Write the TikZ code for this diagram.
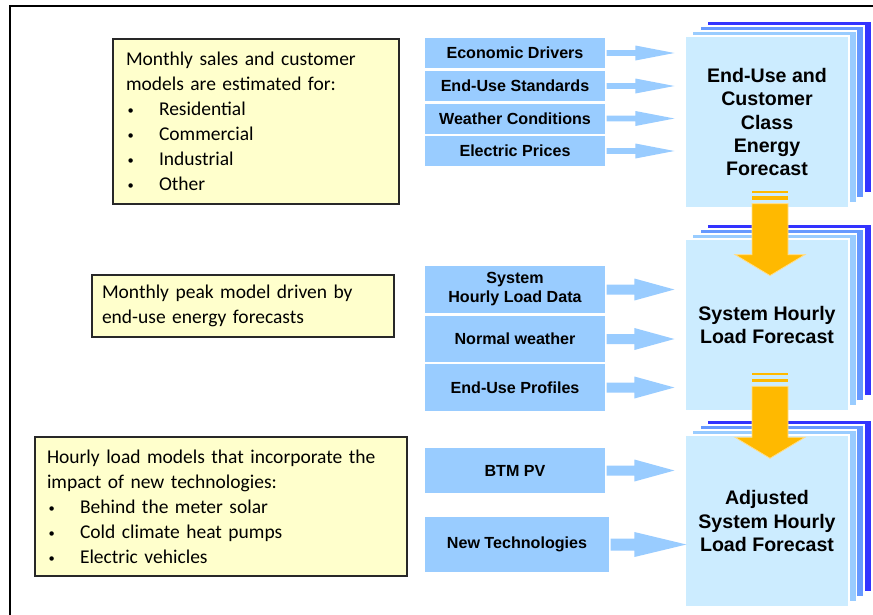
\documentclass[tikz,border=0pt]{standalone}
\usepackage{fontspec}
\setmainfont{Liberation Sans}
\newfontfamily\notefont{Carlito}
\usetikzlibrary{calc}
\definecolor{inblue}{RGB}{153,204,255}
\definecolor{pageA}{RGB}{204,236,255}
\definecolor{pageB}{RGB}{153,204,255}
\definecolor{pageC}{RGB}{102,153,255}
\definecolor{pageD}{RGB}{51,51,255}
\definecolor{notefill}{RGB}{255,255,204}
\definecolor{notedraw}{RGB}{40,40,40}
\definecolor{gold}{RGB}{255,185,0}
\definecolor{goldedge}{RGB}{255,222,140}

% block arrow from the east side of #1 towards the west side of #2
% #3 shaft half height, #4 head half height, #5 head length, #6 gap before #2
\newcommand\feedarrow[6]{%
  \fill[inblue] let \p1=(#1.east), \p2=(#2.west) in
    (\x1,\y1+#3) -- (\x2-#6-#5,\y1+#3) -- (\x2-#6-#5,\y1+#4) -- (\x2-#6,\y1)
    -- (\x2-#6-#5,\y1-#4) -- (\x2-#6-#5,\y1-#3) -- (\x1,\y1-#3) -- cycle;}

% striped down arrow starting at coordinate #1
\newcommand\goldarrow[1]{%
  \begin{scope}[shift={(#1)}]
    \fill[gold] (-18,0) rectangle (18,2);
    \fill[gold] (-18,5.5) rectangle (18,9);
    \filldraw[fill=gold,draw=goldedge,line width=0.8pt,line join=miter]
      (-18,13) -- (18,13) -- (18,64) -- (35,64) -- (0,85) -- (-35,64) -- (-18,64) -- cycle;
  \end{scope}}

% small list bullet followed by the item text
\newcommand\litem{\hspace*{1.5pt}\makebox[31.5pt][l]{\raisebox{1.2pt}{\fontsize{12.5}{12.5}\selectfont\textbullet}}}

\begin{document}
\begin{tikzpicture}[x=1pt,y=-1pt,
  page/.style={draw=white,line width=1.2pt,fill=pageA,minimum width=164pt,
    minimum height=172pt,inner sep=0pt,align=center,
    font=\fontsize{19.6}{23.3}\selectfont\bfseries},
  backpage/.style={draw=white,line width=1.2pt},
  inbox/.style={draw=white,line width=1.5pt,fill=inblue,minimum width=181.5pt,
    inner sep=0pt,align=center,font=\fontsize{16.1}{19}\selectfont\bfseries},
  note/.style={draw=notedraw,line width=1.3pt,fill=notefill,inner ysep=0pt,
    align=left,font=\notefont\fontsize{19.5}{25}\selectfont}]

\useasboundingbox (0,0) rectangle (873,614);
\fill[white] (0,0) rectangle (873,614);

% outer frame
\draw[line width=2.5pt,line join=miter] (10,616) -- (10,6) -- (875,6);

% stacked forecast pages
\coordinate (s1) at (767,122);
\coordinate (s2) at (767,325);
\coordinate (s3) at (767,521);
\foreach \s in {s1,s2,s3}{
  \foreach \k/\c in {3/pageD,2/pageC,1/pageB}{
    \path[backpage,fill=\c] ($(\s)+(7.5*\k-82,-5*\k-86)$) rectangle ++(164,172);
  }
}
\node[page] (f1) at (s1) {End-Use and\\Customer\\Class\\Energy\\Forecast};
\node[page] (f2) at (s2) {System Hourly\\Load Forecast};
\node[page] (f3) at (s3) {Adjusted\\System Hourly\\Load Forecast};

% driver boxes
\node[inbox,minimum height=31.5pt] (ed) at (515,53) {Economic Drivers};
\node[inbox,minimum height=31.5pt] (es) at (515,86) {End-Use Standards};
\node[inbox,minimum height=31.5pt] (wc) at (515,118.5) {Weather Conditions};
\node[inbox,minimum height=31.5pt] (ep) at (515,151) {Electric Prices};

\node[inbox,minimum height=48.5pt] (hl) at (515,289.5) {System\\Hourly Load Data};
\node[inbox,minimum height=47.5pt] (nw) at (515,339) {Normal weather};
\node[inbox,minimum height=48.5pt] (up) at (515,387.5) {End-Use Profiles};

\node[inbox,minimum height=46.5pt] (pv) at (515,470.5) {BTM PV};
\node[inbox,minimum height=56.5pt,minimum width=185.5pt] (nt) at (517,544.5) {New Technologies};

% feeds into the forecasts
\foreach \b in {ed,es,wc,ep}{\feedarrow{\b}{f1}{2.8}{7.5}{39}{10}}
\foreach \b in {hl,nw,up}{\feedarrow{\b}{f2}{5}{11}{40}{10}}
\feedarrow{pv}{f3}{5}{11}{40}{10}
\feedarrow{nt}{f3}{6}{12.5}{52}{-2}

% forecast chain
\coordinate (g1) at ($(f1.south)+(3,-18)$);
\coordinate (g2) at ($(f2.south)+(3,-38.3)$);
\goldarrow{g1}
\goldarrow{g2}

% model notes
\node[note,minimum width=286pt,minimum height=165pt,inner xsep=13pt,text width=260pt]
  (n1) at (256,121.5) {Monthly sales and customer\\models are estimated for:\\
  \litem Residential\\
  \litem Commercial\\
  \litem Industrial\\
  \litem Other};
\node[note,minimum width=302pt,minimum height=62pt,inner xsep=10pt,text width=282pt]
  (n2) at (243,306) {Monthly peak model driven by\\end-use energy forecasts};
\node[note,minimum width=372pt,minimum height=139pt,inner xsep=12pt,text width=348pt]
  (n3) at (221,506.5) {Hourly load models that incorporate the\\impact of new technologies:\\
  \litem Behind the meter solar\\
  \litem Cold climate heat pumps\\
  \litem Electric vehicles};
\end{tikzpicture}
\end{document}
